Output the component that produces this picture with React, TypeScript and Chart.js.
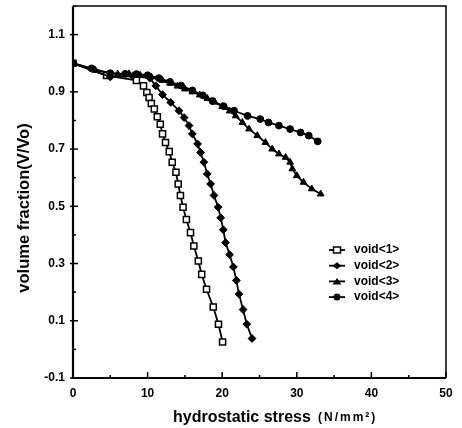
import React, { useEffect, useRef } from 'react';
import { Chart, registerables } from 'chart.js';

Chart.register(...registerables);

// ---- data ----
const void1X = [0, 4.5, 8.5, 9.45, 9.9, 10.2, 10.5, 10.9, 11.3, 11.7, 12.0, 12.4, 12.9, 13.3, 13.8, 14.1, 14.4, 14.75, 15.2, 15.75, 16.2, 16.8, 17.25, 17.9, 18.8, 19.5, 20.05];
const void1Y = [1.0, 0.957, 0.94, 0.921, 0.898, 0.88, 0.859, 0.84, 0.813, 0.787, 0.753, 0.723, 0.691, 0.654, 0.619, 0.578, 0.538, 0.497, 0.454, 0.408, 0.361, 0.309, 0.262, 0.21, 0.148, 0.088, 0.026];

const void2X = [0, 5, 8, 10.3, 11.1, 12.0, 13.1, 14.2, 14.9, 15.55, 16.0, 16.7, 17.1, 17.55, 18.0, 18.45, 18.9, 19.45, 19.8, 20.15, 20.45, 21.0, 21.5, 21.9, 22.25, 22.8, 23.3, 24.0];
const void2Y = [1.0, 0.952, 0.955, 0.948, 0.921, 0.89, 0.863, 0.834, 0.81, 0.782, 0.753, 0.718, 0.688, 0.654, 0.613, 0.578, 0.538, 0.497, 0.46, 0.418, 0.373, 0.331, 0.288, 0.241, 0.193, 0.139, 0.088, 0.038];

const void3X = [0, 3, 6, 7.5, 9, 10.5, 12, 13, 14, 15, 16, 17, 18, 19, 20, 21, 21.8, 22.7, 23.6, 24.7, 25.8, 26.7, 27.6, 28.5, 29.1, 29.4, 30.0, 30.9, 32.0, 33.2];
const void3Y = [1.0, 0.975, 0.962, 0.963, 0.958, 0.952, 0.94, 0.93, 0.92, 0.91, 0.9, 0.889, 0.877, 0.864, 0.849, 0.833, 0.816, 0.793, 0.77, 0.747, 0.723, 0.7, 0.683, 0.671, 0.654, 0.631, 0.607, 0.584, 0.561, 0.543];

const void4X = [0, 2.5, 5, 7, 8.5, 10, 11.5, 13, 14.5, 16, 17.4, 18.7, 20.2, 21.6, 23.4, 25.1, 26.2, 27.6, 29.1, 30.5, 31.6, 32.8];
const void4Y = [1.0, 0.982, 0.965, 0.963, 0.962, 0.958, 0.948, 0.935, 0.922, 0.905, 0.888, 0.868, 0.85, 0.834, 0.816, 0.805, 0.793, 0.782, 0.77, 0.758, 0.747, 0.727];

const seriesLabels = ['void<1>', 'void<2>', 'void<3>', 'void<4>'];
const xTickLabels = [0, 10, 20, 30, 40, 50];
const yTickLabels = [-0.1, 0.1, 0.3, 0.5, 0.7, 0.9, 1.1];
const xTitle = 'hydrostatic stress';
const xUnit = '(N/mm²)';
const yTitle = 'volume fraction(V/Vo)';

const FONT = "'Liberation Sans', Arial, Helvetica, sans-serif";

const pts = (xs: number[], ys: number[]) => xs.map((x, i) => ({ x, y: ys[i] }));

type Style = 'rect' | 'rectRot' | 'triangle' | 'circle';
const markerStyles: Style[] = ['rect', 'rectRot', 'triangle', 'circle'];

function drawMarker(ctx: CanvasRenderingContext2D, style: Style, x: number, y: number) {
  ctx.save();
  ctx.lineWidth = 1.5;
  ctx.strokeStyle = '#000';
  ctx.fillStyle = '#000';
  ctx.beginPath();
  if (style === 'rect') {
    ctx.fillStyle = '#fff';
    ctx.rect(x - 3.5, y - 3, 7, 6);
    ctx.fill();
    ctx.stroke();
  } else if (style === 'rectRot') {
    ctx.moveTo(x - 4.5, y);
    ctx.lineTo(x, y - 3.5);
    ctx.lineTo(x + 4.5, y);
    ctx.lineTo(x, y + 3.5);
    ctx.closePath();
    ctx.fill();
  } else if (style === 'triangle') {
    ctx.moveTo(x - 4.5, y + 3);
    ctx.lineTo(x, y - 3.5);
    ctx.lineTo(x + 4.5, y + 3);
    ctx.closePath();
    ctx.fill();
  } else {
    ctx.arc(x, y, 3.5, 0, Math.PI * 2);
    ctx.fill();
  }
  ctx.restore();
}

const decorPlugin = {
  id: 'decor',
  afterDraw(chart: any) {
    const ctx: CanvasRenderingContext2D = chart.ctx;
    const { left, right, top, bottom } = chart.chartArea;
    const xs = chart.scales.x;
    const ys = chart.scales.y;
    ctx.save();
    // frame
    ctx.strokeStyle = '#000';
    ctx.lineWidth = 1.5;
    ctx.beginPath();
    ctx.moveTo(left, top);
    ctx.lineTo(right, top);
    ctx.lineTo(right, bottom);
    ctx.stroke();
    ctx.lineWidth = 2.2;
    ctx.beginPath();
    ctx.moveTo(left, top);
    ctx.lineTo(left, bottom);
    ctx.lineTo(right, bottom);
    ctx.stroke();
    // inward ticks
    ctx.lineWidth = 1.5;
    ys.ticks.forEach((t: any) => {
      const r = Math.round(t.value * 10);
      const major = Math.abs(r) % 2 === 1;
      const py = ys.getPixelForValue(t.value);
      ctx.beginPath();
      ctx.moveTo(left - (major ? 3 : 0), py);
      ctx.lineTo(left + (major ? 5 : 3), py);
      ctx.stroke();
    });
    xs.ticks.forEach((t: any) => {
      const major = Math.round(t.value) % 10 === 0;
      const px = xs.getPixelForValue(t.value);
      ctx.beginPath();
      ctx.moveTo(px, bottom);
      ctx.lineTo(px, bottom - (major ? 6 : 3));
      ctx.stroke();
    });
    // legend
    chart.data.datasets.forEach((ds: any, i: number) => {
      const ly = 250 + i * 15.7;
      ctx.strokeStyle = '#000';
      ctx.lineWidth = 1.8;
      ctx.beginPath();
      ctx.moveTo(329, ly);
      ctx.lineTo(345, ly);
      ctx.stroke();
      drawMarker(ctx, markerStyles[i], 337, ly);
      ctx.fillStyle = '#000';
      ctx.font = `bold 12px ${FONT}`;
      ctx.textAlign = 'left';
      ctx.textBaseline = 'middle';
      ctx.fillText(ds.label, 354, ly);
    });
    // x title
    ctx.fillStyle = '#000';
    ctx.textBaseline = 'alphabetic';
    ctx.textAlign = 'left';
    ctx.font = `bold 16px ${FONT}`;
    ctx.fillText(xTitle, 173, 422);
    ctx.font = `bold 12px ${FONT}`;
    (ctx as any).letterSpacing = '2px';
    ctx.fillText(xUnit, 318, 421);
    (ctx as any).letterSpacing = '0px';
    // y title
    ctx.save();
    ctx.translate(24, 208);
    ctx.rotate(-Math.PI / 2);
    ctx.textAlign = 'center';
    ctx.textBaseline = 'middle';
    ctx.font = `bold 16.5px ${FONT}`;
    ctx.fillText(yTitle, 0, 0);
    ctx.restore();
    ctx.restore();
  },
};

export default function App() {
  const ref = useRef<HTMLCanvasElement>(null);
  useEffect(() => {
    document.body.style.margin = '0';
    const mk = (label: string, xs: number[], ys: number[], style: Style, order: number) => ({
      label,
      order,
      data: pts(xs, ys),
      borderColor: '#000',
      borderWidth: 1.8,
      pointStyle: style,
      pointRadius: style === 'rect' ? 4.3 : style === 'circle' ? 3.4 : 3.9,
      pointBorderWidth: style === 'rect' ? 1.5 : 1,
      pointBackgroundColor: style === 'rect' ? '#fff' : '#000',
      pointBorderColor: '#000',
      tension: 0,
      fill: false,
    });
    const chart = new Chart(ref.current!, {
      type: 'line',
      data: {
        datasets: [
          mk(seriesLabels[0], void1X, void1Y, 'rect', 3),
          mk(seriesLabels[1], void2X, void2Y, 'rectRot', 2),
          mk(seriesLabels[2], void3X, void3Y, 'triangle', 1),
          mk(seriesLabels[3], void4X, void4Y, 'circle', 0),
        ],
      },
      options: {
        animation: false,
        responsive: false,
        devicePixelRatio: 1,
        layout: { padding: { left: 0, right: 16, top: 6, bottom: 0 } },
        plugins: { legend: { display: false }, tooltip: { enabled: false } },
        scales: {
          x: {
            type: 'linear',
            min: 0,
            max: 50,
            grid: { display: false, drawTicks: false },
            border: { display: false },
            ticks: {
              stepSize: 5,
              autoSkip: false,
              maxRotation: 0,
              padding: 8,
              color: '#000',
              font: { family: FONT, size: 12, weight: 'bold' },
              callback: (v: any) => (xTickLabels.includes(Math.round(v)) && Math.round(v) % 10 === 0 ? String(Math.round(v)) : ''),
            },
            afterFit: (s: any) => {
              s.height = 50;
              s.paddingLeft = 0;
              s.paddingRight = 0;
            },
          },
          y: {
            type: 'linear',
            min: -0.1,
            max: 1.2,
            grid: { display: false, drawTicks: false },
            border: { display: false },
            ticks: {
              stepSize: 0.1,
              autoSkip: false,
              padding: 8,
              color: '#000',
              font: { family: FONT, size: 12, weight: 'bold' },
              callback: (v: any) => {
                const r = Math.round(Number(v) * 10) / 10;
                return yTickLabels.some((t) => Math.abs(t - r) < 1e-6) ? r.toFixed(1) : '';
              },
            },
            afterFit: (s: any) => {
              s.width = 73;
              s.paddingTop = 0;
              s.paddingBottom = 0;
            },
          },
        },
      },
      plugins: [decorPlugin],
    } as any);
    return () => chart.destroy();
  }, []);
  return (
    <div style={{ position: 'fixed', left: 0, top: 0, width: 462, height: 428, background: '#fff' }}>
      <canvas ref={ref} width={462} height={428} />
    </div>
  );
}
